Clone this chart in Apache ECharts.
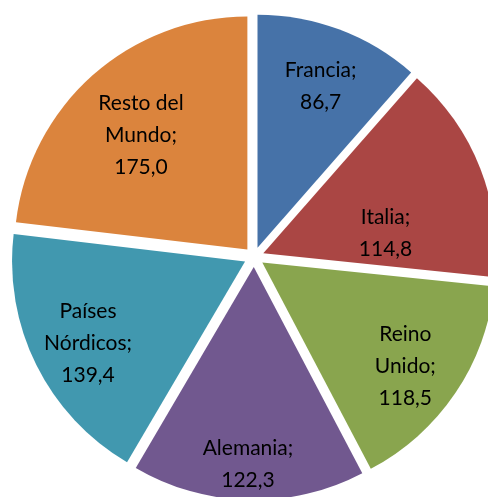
<!DOCTYPE html>
<html>
<head>
<meta charset="utf-8">
<script src="https://cdn.jsdelivr.net/npm/echarts@6/dist/echarts.min.js"></script>
<style>
  html, body { margin: 0; padding: 0; background: #fff; }
  #chart { width: 488px; height: 497px; }
</style>
</head>
<body>
<div id="chart"></div>
<script>
const categories = ['Francia', 'Italia', 'Reino Unido', 'Alemania', 'Países Nórdicos', 'Resto del Mundo'];
const values = [86.7, 114.8, 118.5, 122.3, 139.4, 175.0];
const colors = ['#4672A8', '#AA4644', '#89A54E', '#71588F', '#4198AF', '#DB843D'];

// nudges so labels sit where Excel put them
const labelShift = [[21, -50], [11, 24], [44, 37], [-3, 78], [-50, 29], [-27, -25]];

const fmt = v => v.toFixed(1).replace('.', ',');
const wrap = s => {
  const i = s.lastIndexOf(' ');
  return i < 0 ? s : s.slice(0, i) + '\n' + s.slice(i + 1);
};

const chart = echarts.init(document.getElementById('chart'), null, { renderer: 'canvas' });

chart.setOption({
  animation: false,
  backgroundColor: '#fff',
  series: [{
    type: 'pie',
    center: [254, 257],
    radius: 233,
    startAngle: 90,
    clockwise: true,
    selectedMode: 'multiple',
    selectedOffset: 10,
    select: { itemStyle: { borderWidth: 0 } },
    itemStyle: { borderWidth: 0 },
    label: {
      show: true,
      position: 'inside',
      color: '#000',
      fontFamily: 'Lato',
      fontSize: 21,
      lineHeight: 32,
      align: 'center',
      formatter: p => wrap(p.name) + ';\n' + fmt(p.value),
    },
    labelLine: { show: false },
    labelLayout: p => ({ dx: labelShift[p.dataIndex][0], dy: labelShift[p.dataIndex][1] }),
    emphasis: { disabled: true },
    data: categories.map((name, i) => ({
      name,
      value: values[i],
      selected: true,
      itemStyle: { color: colors[i] },
    })),
  }],
});
</script>
</body>
</html>
